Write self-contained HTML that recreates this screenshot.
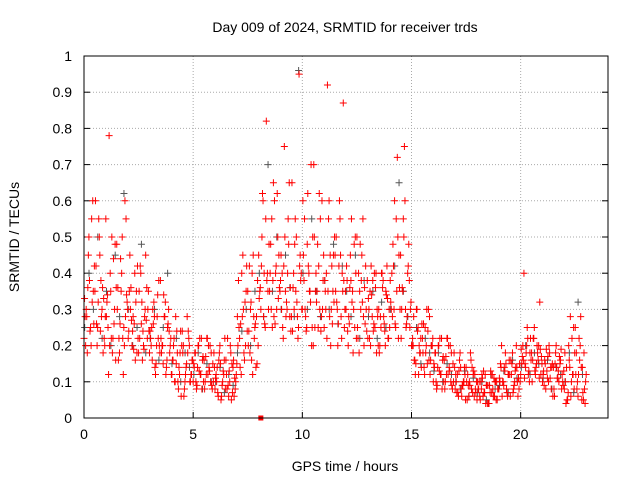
<!DOCTYPE html>
<html><head><meta charset="utf-8"><style>
body{margin:0;background:#fff}
svg{display:block;font-family:"Liberation Sans",sans-serif}
</style></head><body>
<svg id="chart" width="640" height="480">
<rect width="640" height="480" fill="#fff"/>
<text x="345" y="32" font-size="14" text-anchor="middle">Day 009 of 2024, SRMTID for receiver trds</text>
<text x="345" y="471" font-size="14" text-anchor="middle">GPS time / hours</text>
<text transform="translate(19,237) rotate(-90)" font-size="14" text-anchor="middle">SRMTID / TECUs</text>
<g id="grid"></g><g id="axes"></g><g id="marks"></g>
<rect x="84" y="56" width="524" height="362" fill="none" stroke="#000"/>
</svg>
<script>
const xTicks=[0,5,10,15,20];
const yTicks=[0,0.1,0.2,0.3,0.4,0.5,0.6,0.7,0.8,0.9,1];
const yTickLabels=["0","0.1","0.2","0.3","0.4","0.5","0.6","0.7","0.8","0.9","1"];
const redA=[.22,.30,.45,.25,.60,.35,.20,.50,.28,.33,.55,.25,.40,.18,.30,.48,.22,.35,.12,.28,.30,.45,.20,.26,.35,.18,.40,.24,.30,.22,.18,.25,.32,.15,.22,.38,.20,.28,.16,.24,.12,.20,.28,.10,.18,.24,.08,.15,.22,.12,.10,.18,.14,.22,.08,.16,.12,.20,.10,.15,.08,.14,.18,.06,.12,.16,.09,.20,.07,.11,.15,.25,.12,.30,.20,.35,.18,.40,.22,.28,.45,.30,.60,.25,.40,.35,.55,.28,.42,.33,.38,.25,.50,.30,.65,.28,.40,.35,.22,.45,.30,.55,.25,.40,.70,.20,.35,.48,.30,.60,.25,.40,.55,.20,.35,.45,.30,.60,.22,.38,.30,.20,.45,.35,.25,.50,.18,.38,.28,.42,.22,.35,.28,.40,.18,.30,.25,.38,.20,.33,.25,.40,.30,.55,.22,.45,.35,.60,.28,.38,.20,.28,.15,.25,.18,.22,.12,.30,.16,.20,.10,.18,.14,.22,.08,.16,.12,.20,.10,.15,.08,.12,.16,.06,.10,.14,.09,.18,.07,.12,.05,.10,.08,.13,.04,.09,.07,.12,.06,.10,.08,.14,.10,.18,.06,.12,.15,.09,.20,.11,.12,.20,.15,.25,.10,.18,.22,.14,.16,.19,.10,.16,.13,.20,.08,.14,.18,.11,.15,.12,.08,.14,.20,.06,.12,.25,.10,.16,.05,.18,.12];
const redB=[.28,.18,.38,.55,.26,.42,.32,.24,.36,.20,.32,.78,.22,.44,.16,.36,.26,.50,.20,.34,.24,.36,.28,.16,.42,.22,.32,.19,.27,.35,.22,.30,.14,.28,.20,.18,.34,.12,.26,.20,.16,.10,.24,.14,.06,.20,.12,.18,.10,.16,.14,.08,.20,.12,.17,.10,.22,.13,.09,.18,.12,.06,.15,.10,.22,.08,.13,.05,.16,.10,.20,.14,.28,.16,.42,.24,.32,.45,.26,.38,.35,.50,.40,.82,.30,.48,.38,.26,.62,.36,.30,.42,.28,.55,.36,.24,.48,.32,.95,.40,.45,.28,.62,.35,.25,.50,.32,.42,.24,.38,.35,.92,.28,.42,.32,.50,.26,.45,.35,.30,.38,.26,.55,.30,.40,.22,.48,.32,.36,.24,.30,.42,.24,.36,.28,.20,.40,.26,.34,.22,.32,.48,.26,.72,.36,.30,.50,.25,.42,.30,.22,.16,.30,.20,.14,.26,.18,.24,.12,.20,.14,.08,.20,.12,.17,.10,.22,.13,.09,.18,.10,.06,.14,.09,.12,.05,.10,.08,.13,.07,.08,.05,.11,.07,.09,.04,.12,.06,.10,.08,.10,.06,.14,.08,.12,.16,.07,.13,.10,.15,.15,.40,.18,.12,.22,.16,.13,.20,.11,.17,.13,.08,.17,.11,.15,.06,.14,.10,.19,.09,.10,.05,.14,.22,.08,.18,.12,.28,.07,.04];
const redC=[.33,.28,.50,.20,.35,.60,.25,.45,.30,.22,.28,.12,.35,.22,.48,.30,.18,.40,.25,.55,.22,.30,.24,.40,.18,.35,.26,.20,.45,.30,.24,.16,.28,.20,.38,.22,.15,.32,.25,.18,.12,.22,.15,.08,.24,.18,.10,.28,.20,.12,.15,.10,.20,.12,.16,.08,.22,.14,.18,.10,.11,.07,.20,.09,.16,.12,.06,.18,.14,.08,.28,.22,.40,.18,.35,.20,.30,.12,.25,.15,.33,.42,.28,.55,.35,.40,.25,.60,.30,.45,.45,.22,.35,.40,.28,.65,.30,.50,.25,.38,.60,.30,.48,.35,.20,.70,.40,.25,.55,.30,.38,.22,.60,.30,.45,.35,.20,.55,.40,.25,.42,.28,.38,.18,.50,.25,.35,.45,.20,.30,.33,.20,.38,.25,.30,.18,.40,.28,.35,.22,.38,.28,.60,.35,.45,.22,.55,.30,.40,.25,.20,.16,.30,.12,.22,.18,.25,.15,.28,.20,.15,.10,.20,.12,.16,.08,.22,.14,.18,.10,.12,.07,.18,.09,.14,.10,.06,.16,.12,.08,.10,.06,.12,.07,.09,.04,.13,.08,.10,.05,.11,.20,.09,.15,.12,.06,.18,.10,.14,.08,.19,.16,.14,.22,.18,.10,.25,.15,.20,.12,.12,.15,.11,.18,.14,.08,.20,.13,.16,.10,.18,.05,.16,.10,.25,.12,.06,.20,.14,.08];
const redD=[.20,.36,.24,.32,.42,.26,.55,.38,.18,.28,.34,.20,.50,.26,.36,.16,.44,.22,.60,.32,.35,.27,.19,.32,.22,.42,.16,.28,.36,.24,.20,.26,.12,.34,.18,.20,.28,.14,.30,.22,.16,.10,.18,.12,.20,.06,.14,.24,.10,.16,.18,.09,.13,.22,.10,.17,.12,.20,.08,.14,.10,.16,.05,.13,.08,.22,.10,.15,.06,.12,.38,.26,.45,.32,.24,.42,.16,.28,.14,.20,.36,.62,.26,.38,.48,.30,.65,.40,.50,.35,.40,.75,.32,.48,.24,.36,.55,.28,.42,.30,.38,.24,.42,.32,.50,.25,.35,.62,.28,.45,.30,.35,.45,.26,.50,.32,.42,.28,.87,.35,.24,.36,.32,.48,.22,.40,.30,.55,.26,.38,.22,.34,.26,.40,.20,.28,.36,.24,.42,.30,.30,.42,.25,.50,.30,.36,.75,.26,.48,.32,.20,.12,.24,.18,.26,.14,.20,.30,.16,.22,.18,.09,.13,.22,.10,.17,.12,.20,.08,.14,.07,.13,.08,.10,.05,.12,.09,.14,.06,.10,.08,.10,.06,.12,.04,.09,.07,.11,.05,.08,.15,.10,.13,.07,.16,.12,.08,.14,.06,.10,.17,.11,.20,.13,.16,.22,.12,.18,.32,.15,.09,.19,.10,.14,.06,.15,.11,.17,.08,.13,.04,.07,.28,.12,.18,.08,.22,.14,.05,.10];
const grayC=[.25,.40,.30,.50,.22,.35,.20,.45,.28,.62,.30,.20,.25,.48,.18,.22,.30,.16,.25,.40,.15,.22,.10,.18,.14,.12,.18,.08,.15,.10,.10,.14,.07,.12,.09,.18,.24,.30,.20,.35,.40,.28,.70,.35,.50,.30,.45,.36,.28,.96,.40,.30,.55,.35,.28,.38,.30,.48,.26,.42,.35,.28,.45,.22,.38,.28,.35,.22,.32,.25,.30,.42,.65,.35,.28,.20,.25,.15,.22,.18,.13,.18,.10,.15,.12,.10,.08,.13,.06,.11,.07,.10,.05,.12,.08,.09,.13,.07,.16,.11,.14,.20,.12,.18,.15,.11,.16,.08,.14,.12,.10,.18,.07,.32,.12];
const gapMarkerX=[8.1];

const X0=84,X1=608,Y0=418,Y1=56,XMAX=24;
const xs=v=>X0+v/XMAX*(X1-X0);
const ys=v=>Y0-v*(Y0-Y1);
const NS="http://www.w3.org/2000/svg";
const grid=document.getElementById('grid'),axes=document.getElementById('axes'),marks=document.getElementById('marks');
function mk(tag,at,parent){const e=document.createElementNS(NS,tag);for(const k in at)e.setAttribute(k,at[k]);parent.appendChild(e);return e;}
xTicks.forEach(t=>{
  const x=xs(t);
  if(t>0){const g=mk('line',{x1:x,x2:x,y1:Y1,y2:Y0,stroke:'#aaa','stroke-dasharray':'1,2'},grid);
  
  }
  mk('line',{x1:x,x2:x,y1:Y0,y2:Y0-6,stroke:'#000'},axes);
  const l=mk('text',{x:x,y:Y0+21,'font-size':14,'text-anchor':'middle'},axes);l.textContent=t;
  
  
});
yTicks.forEach((t,i)=>{
  const y=ys(t);
  if(t>0&&t<1){const g=mk('line',{x1:X0,x2:X1,y1:y,y2:y,stroke:'#aaa','stroke-dasharray':'1,2'},grid);
  
  }
  mk('line',{x1:X0,x2:X0+6,y1:y,y2:y,stroke:'#000'},axes);
  mk('line',{x1:X1,x2:X1-6,y1:y,y2:y,stroke:'#000'},axes);
  const l=mk('text',{x:X0-12,y:y+5,'font-size':14,'text-anchor':'end'},axes);l.textContent=yTickLabels[i];
  
  
});
function plus(t,v,color,name){
  const x=xs(t),y=ys(v);
  const p=mk('path',{d:`M${x-3.5},${y}h7M${x},${y-3.5}v7`,stroke:color,'stroke-width':1,fill:'none'},marks);
  
  
}
grayC.forEach((v,i)=>plus(i*0.2+0.03,v,'#555','point-gray'));
redA.forEach((v,i)=>plus(i*0.1,v,'#f00','point-red'));
redB.forEach((v,i)=>plus(i*0.1+0.05,v,'#f00','point-red'));
redC.forEach((v,i)=>plus(i*0.1+0.025,v,'#f00','point-red'));
redD.forEach((v,i)=>plus(i*0.1+0.075,v,'#f00','point-red'));
gapMarkerX.forEach(t=>{
  const r=mk('rect',{x:xs(t)-2.5,y:ys(0)-2.5,width:5,height:5,fill:'#f00'},marks);
  
  
});
</script>
</body></html>
